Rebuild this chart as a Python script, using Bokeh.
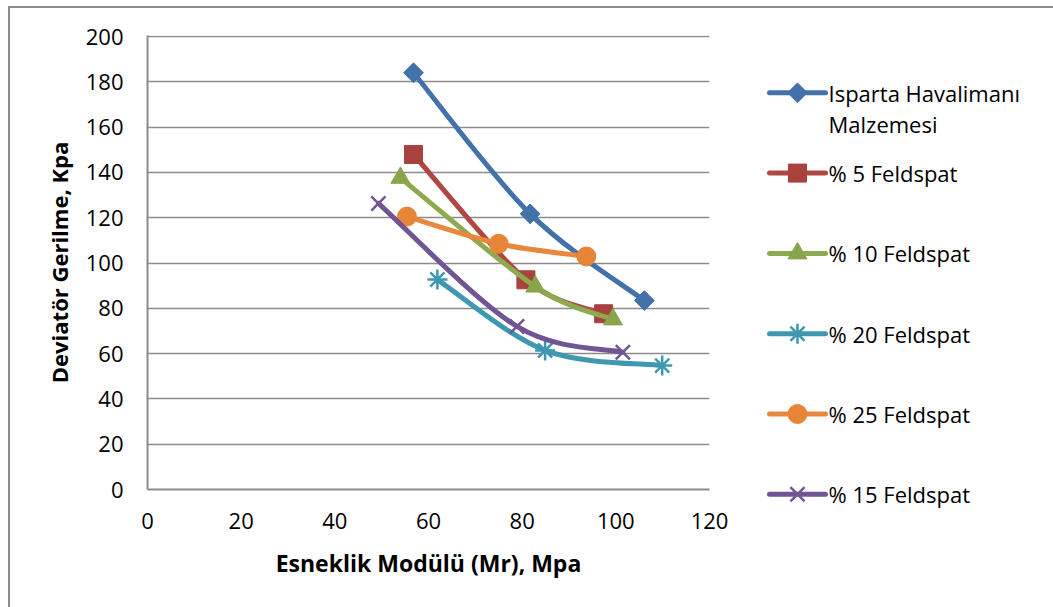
from bokeh.plotting import figure
from bokeh.layouts import row, column
from bokeh.models import FixedTicker, Range1d
from bokeh.core.properties import value
from bokeh.embed import file_html
from bokeh.resources import INLINE

# Resilient modulus (Mr, MPa) and deviator stress (kPa) for each mix
series_names = ["Isparta Havalimanı", "% 5 Feldspat", "% 10 Feldspat",
                "% 20 Feldspat", "% 25 Feldspat", "% 15 Feldspat"]
name_second_line = "Malzemesi"

isparta_mr = [56.8, 81.7, 106.1]
isparta_dev = [184.0, 121.7, 83.4]

f5_mr = [56.8, 80.8, 97.4]
f5_dev = [147.9, 92.6, 77.6]

f10_mr = [54.0, 82.8, 99.4]
f10_dev = [137.6, 89.6, 75.1]

f20_mr = [61.9, 84.9, 109.9]
f20_dev = [92.7, 61.4, 54.7]

f25_mr = [55.4, 75.0, 93.7]
f25_dev = [120.5, 108.5, 102.9]

f15_mr = [49.3, 78.9, 101.5]
f15_dev = [126.3, 72.0, 60.6]

x_ticks = [0, 20, 40, 60, 80, 100, 120]
y_ticks = [0, 20, 40, 60, 80, 100, 120, 140, 160, 180, 200]

FONT = "Open Sans"
GRID = "#8C8C8C"
HEIGHT = 607

# line colour, marker colour, marker kind
styles = [
    ("#4371AA", "#4371AA", "diamond"),
    ("#B04743", "#A8423F", "square"),
    ("#8DAB4E", "#89A54B", "triangle"),
    ("#3E98B1", "#3E98B1", "asterisk"),
    ("#E8883C", "#E68438", "circle"),
    ("#6F5594", "#6F5594", "x"),
]
marker_sizes = {"diamond": 14, "square": 18, "triangle": 19,
                "asterisk": 20, "circle": 19, "x": 20}


def marker_kwargs(mc, mk):
    shape = "square" if mk == "diamond" else mk
    angle = 0.785398 if mk == "diamond" else 0.0
    lw = 2.5 if mk in ("x", "asterisk") else 1
    return dict(marker=shape, size=marker_sizes[mk], angle=angle,
                fill_color=mc, line_color=mc, line_width=lw)


def smooth_segments(xs, ys):
    """Cubic Bezier segments through the points (Catmull-Rom style)."""
    px = [xs[0]] + list(xs) + [xs[-1]]
    py = [ys[0]] + list(ys) + [ys[-1]]
    seg = dict(x0=[], y0=[], x1=[], y1=[], cx0=[], cy0=[], cx1=[], cy1=[])
    for i in range(len(xs) - 1):
        a, b, c, d = i, i + 1, i + 2, i + 3
        seg["x0"].append(px[b]); seg["y0"].append(py[b])
        seg["x1"].append(px[c]); seg["y1"].append(py[c])
        seg["cx0"].append(px[b] + (px[c] - px[a]) / 6.0)
        seg["cy0"].append(py[b] + (py[c] - py[a]) / 6.0)
        seg["cx1"].append(px[c] - (px[d] - px[b]) / 6.0)
        seg["cy1"].append(py[c] - (py[d] - py[b]) / 6.0)
    return seg


# ---- main chart -------------------------------------------------------
# the y range reaches a hair above 200 so the top gridline is not clipped
p = figure(width=740, height=HEIGHT, x_range=Range1d(0, 120),
           y_range=Range1d(0, 200.45), output_backend="svg",
           toolbar_location=None, min_border_left=147, min_border_right=31,
           min_border_top=35, min_border_bottom=118)
p.outline_line_color = None
p.background_fill_color = "white"
p.border_fill_alpha = 0

p.xgrid.visible = False
p.ygrid.ticker = FixedTicker(ticks=y_ticks)
p.ygrid.grid_line_color = GRID
p.ygrid.grid_line_width = 1.5

for ax in (p.xaxis[0], p.yaxis[0]):
    ax.axis_line_color = GRID
    ax.axis_line_width = 2
    ax.major_tick_in = 0
    ax.major_tick_out = 0
    ax.minor_tick_in = 0
    ax.minor_tick_out = 0
    ax.major_label_text_font = FONT
    ax.major_label_text_font_size = "22px"
    ax.major_label_text_color = "black"
    ax.axis_label_text_font = FONT
    ax.axis_label_text_font_style = "bold"
    ax.axis_label_text_color = "black"

p.xaxis.ticker = FixedTicker(ticks=x_ticks)
p.yaxis.ticker = FixedTicker(ticks=y_ticks)
p.xaxis.axis_label = "Esneklik Modülü (Mr), Mpa"
p.yaxis.axis_label = "Deviatör Gerilme, Kpa"
p.xaxis.axis_label_text_font_size = "23px"
p.yaxis.axis_label_text_font_size = "22px"
p.xaxis.major_label_standoff = 23
p.yaxis.major_label_standoff = 24
p.xaxis.axis_label_standoff = 15
p.yaxis.axis_label_standoff = 9

all_x = [isparta_mr, f5_mr, f10_mr, f20_mr, f25_mr, f15_mr]
all_y = [isparta_dev, f5_dev, f10_dev, f20_dev, f25_dev, f15_dev]

for xs, ys, (lc, mc, mk) in zip(all_x, all_y, styles):
    seg = smooth_segments(xs, ys)
    p.bezier(source=seg, x0="x0", y0="y0", x1="x1", y1="y1",
             cx0="cx0", cy0="cy0", cx1="cx1", cy1="cy1",
             line_color=lc, line_width=5, line_cap="round")
    p.scatter(xs, ys, **marker_kwargs(mc, mk))

# ---- legend panel ------------------------------------------------------
# Full-height frame with the y range in page pixels (growing downwards),
# so rows can be laid out directly.
LW = 313
lg = figure(width=LW, height=HEIGHT, x_range=Range1d(0, LW),
            y_range=Range1d(HEIGHT, 0), output_backend="svg",
            toolbar_location=None, min_border=0)
lg.axis.visible = False
lg.grid.visible = False
lg.outline_line_color = None
lg.background_fill_alpha = 0
lg.border_fill_alpha = 0

first_row, row_step = 92.3, 80.3
seg_x0, seg_x1, text_x = 29, 85, 88
for i, (name, (lc, mc, mk)) in enumerate(zip(series_names, styles)):
    ry = first_row + i * row_step
    lg.segment(x0=[seg_x0], y0=[ry], x1=[seg_x1], y1=[ry],
               line_color=lc, line_width=5, line_cap="round")
    lg.scatter([(seg_x0 + seg_x1) / 2], [ry], **marker_kwargs(mc, mk))
    lg.text(x=[text_x], y=[ry], text=[name], text_font=value(FONT),
            text_font_size="22px", text_color="black",
            text_baseline="middle", text_align="left")
lg.text(x=[text_x], y=[first_row + 31], text=[name_second_line],
        text_font=value(FONT), text_font_size="22px", text_color="black",
        text_baseline="middle", text_align="left")

# chart area border: left and top edges
border_css = ("linear-gradient(#8C8C8C, #8C8C8C) 8px 6px / 2px 601px no-repeat, "
              "linear-gradient(#8C8C8C, #8C8C8C) 8px 6px / 1045px 2px no-repeat, "
              "#ffffff")
layout = row(p, column(lg, spacing=0), spacing=0,
             styles={"background": border_css})

open("out.html", "w").write(file_html(layout, INLINE))
